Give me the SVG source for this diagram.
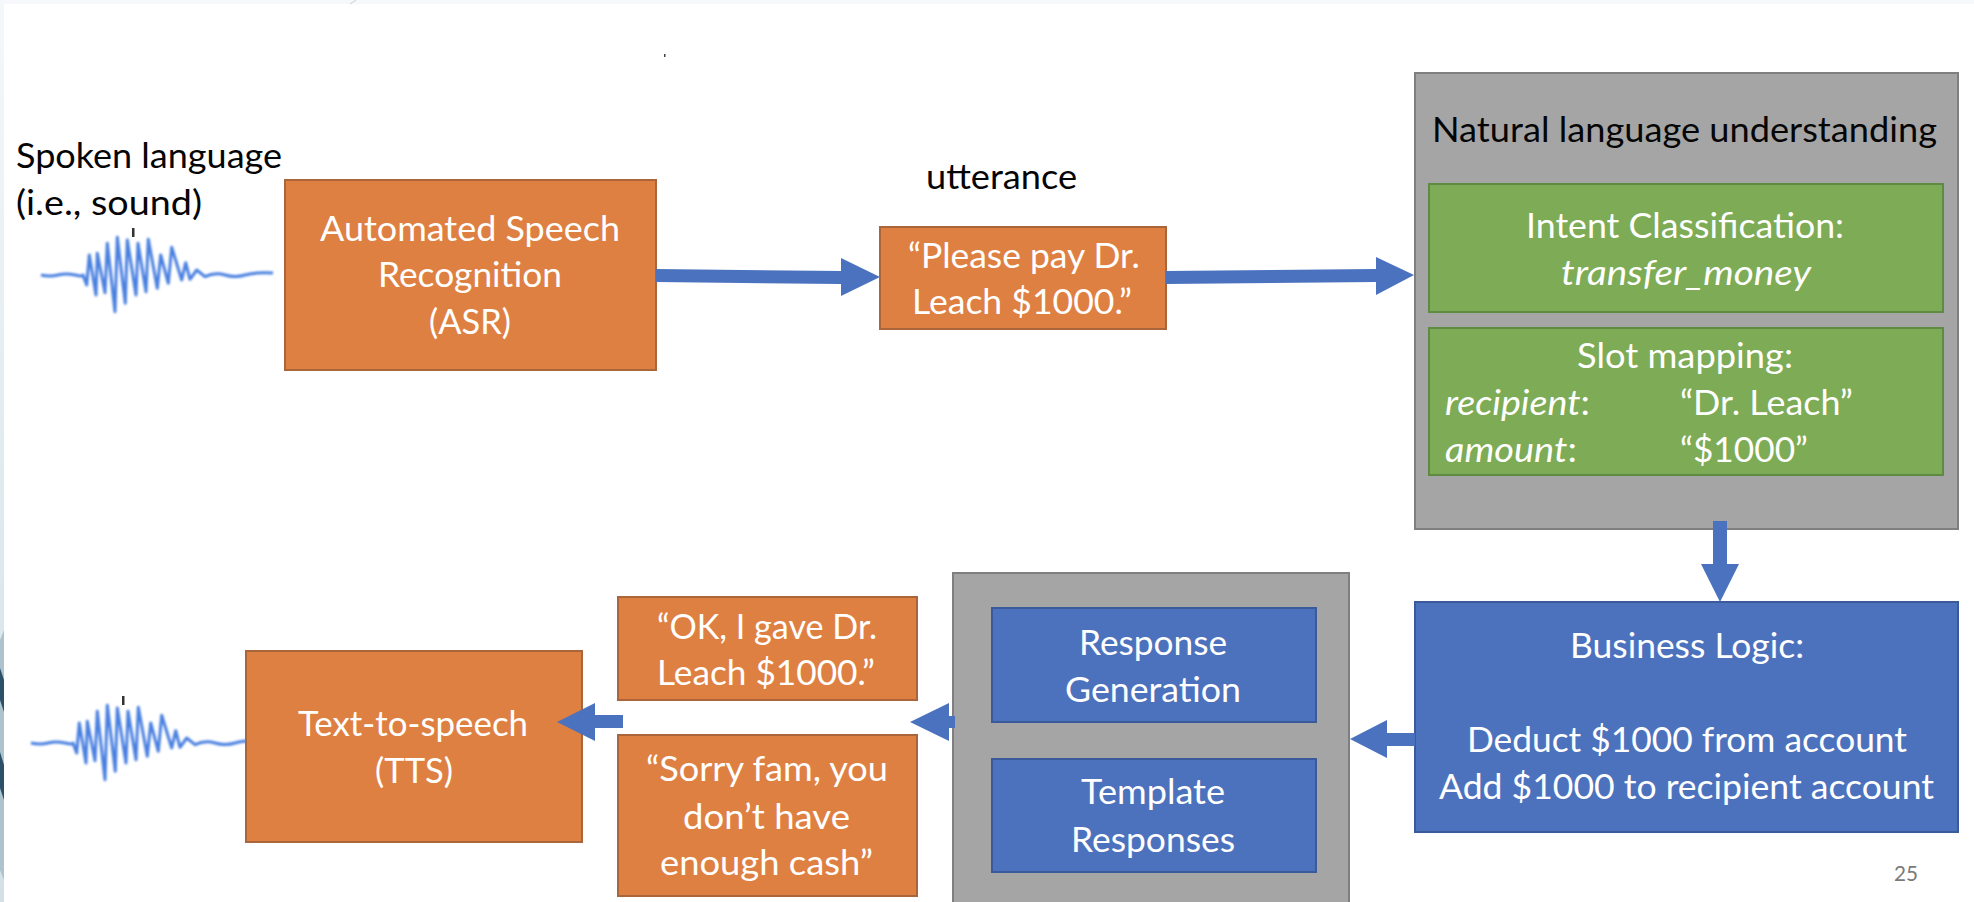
<svg xmlns="http://www.w3.org/2000/svg" xmlns:xlink="http://www.w3.org/1999/xlink" width="1974" height="902" viewBox="0 0 1974 902">
<style>
text{font-family:Lato,"Liberation Sans",sans-serif;font-size:34.500px;fill:#fff}
.d{fill:#050505}
.i{font-style:italic}
.o{fill:#df8043;stroke:#ab653a;stroke-width:2}
.b{fill:#4d72bd;stroke:#3a5a9a;stroke-width:2}
.g{fill:#7eab55;stroke:#5f8a41;stroke-width:2}
.y{fill:#a5a5a5;stroke:#7f7f7f;stroke-width:2}
.a{fill:#4a72be}
.w{fill:none;stroke:#4a80e0;stroke-width:3;stroke-linejoin:round;filter:url(#blur)}
</style>
<defs>
<filter id="blur" x="-5%" y="-10%" width="110%" height="120%"><feGaussianBlur stdDeviation="1"/></filter>
<linearGradient id="edge" x1="0" y1="0" x2="0" y2="1"><stop offset="0" stop-color="#f5f8fa"/><stop offset="0.5" stop-color="#e0ebf0"/><stop offset="1" stop-color="#d3e1e7"/></linearGradient>
<g id="wave">
<path class="w" d="M41,275Q50,277 58,275T75,275T83,275L86.700,285L89.300,255L96,295L97.300,253.300L105,292.700L107.300,243.300L115,311.700L117.300,237.300L125.300,303.300L127.300,240L136,295L138,243.300L146,291.700L148.300,239.300L157.300,288.300L160.700,255L168.300,283.300L171.700,247.300L181.700,280L185.700,262.700L190,279.300L196.700,270L205,276.700Q215,272 225,275T245,275T273,273"/>
<rect x="132" y="228" width="2.500" height="9" fill="#333"/>
</g>
</defs>
<rect width="1974" height="902" fill="#fff"/>
<g id="frame">
<rect width="1974" height="4" fill="#f6f8fb"/>
<rect width="4" height="902" fill="url(#edge)"/>
<path d="M0,640L4,630L4,880L0,870Z" fill="#adc4ce"/>
<path d="M0,668L4,680L4,712L0,700Z" fill="#2b5068"/>
<path d="M0,752L4,765L4,800L0,788Z" fill="#2b5068"/>
<path d="M350,4L356,0" stroke="#ccc" stroke-width="1" fill="none"/>
<rect x="664" y="54" width="1.500" height="3" fill="#444"/>
</g>
<g id="wave-in"><use xlink:href="#wave" href="#wave"/></g>
<g id="wave-out"><use xlink:href="#wave" href="#wave" transform="translate(-10,468)"/></g>
<g id="spoken-label">
<text class="d" x="16" y="168" textLength="266" lengthAdjust="spacingAndGlyphs">Spoken language</text>
<text class="d" x="16" y="215" textLength="186" lengthAdjust="spacingAndGlyphs">(i.e., sound)</text>
</g>
<g id="asr">
<rect class="o" x="285" y="180" width="371" height="190"/>
<text x="320" y="241" textLength="300" lengthAdjust="spacingAndGlyphs">Automated Speech</text>
<text x="378" y="287" textLength="184" lengthAdjust="spacingAndGlyphs">Recognition</text>
<text x="429" y="334" textLength="82" lengthAdjust="spacingAndGlyphs">(ASR)</text>
</g>
<g id="utterance">
<text class="d" x="926" y="189" textLength="151" lengthAdjust="spacingAndGlyphs">utterance</text>
<rect class="o" x="880" y="227" width="286" height="102"/>
<text x="908" y="268" textLength="232" lengthAdjust="spacingAndGlyphs">“Please pay Dr.</text>
<text x="912" y="314" textLength="220" lengthAdjust="spacingAndGlyphs">Leach $1000.”</text>
</g>
<g id="nlu">
<rect class="y" x="1415" y="73" width="543" height="456"/>
<text class="d" x="1432" y="142" textLength="505" lengthAdjust="spacingAndGlyphs">Natural language understanding</text>
</g>
<g id="intent">
<rect class="g" x="1429" y="184" width="514" height="128"/>
<text x="1526" y="238" textLength="318" lengthAdjust="spacingAndGlyphs">Intent Classification:</text>
<text class="i" x="1561" y="285" textLength="250" lengthAdjust="spacingAndGlyphs">transfer_money</text>
</g>
<g id="slots">
<rect class="g" x="1429" y="328" width="514" height="147"/>
<text x="1577" y="368" textLength="216" lengthAdjust="spacingAndGlyphs">Slot mapping:</text>
<text x="1445" y="415" textLength="145" lengthAdjust="spacingAndGlyphs"><tspan class="i">recipient</tspan>:</text>
<text x="1680" y="415" textLength="173" lengthAdjust="spacingAndGlyphs">“Dr. Leach”</text>
<text x="1445" y="462" textLength="132" lengthAdjust="spacingAndGlyphs"><tspan class="i">amount</tspan>:</text>
<text x="1680" y="462" textLength="128" lengthAdjust="spacingAndGlyphs">“$1000”</text>
</g>
<g id="business">
<rect class="b" x="1415" y="602" width="543" height="230"/>
<text x="1570" y="658" textLength="234" lengthAdjust="spacingAndGlyphs">Business Logic:</text>
<text x="1467" y="752" textLength="440" lengthAdjust="spacingAndGlyphs">Deduct $1000 from account</text>
<text x="1439" y="799" textLength="495" lengthAdjust="spacingAndGlyphs">Add $1000 to recipient account</text>
</g>
<g id="response-group">
<rect class="y" x="953" y="573" width="396" height="340"/>
</g>
<g id="response-generation">
<rect class="b" x="992" y="608" width="324" height="114"/>
<text x="1079" y="655" textLength="148" lengthAdjust="spacingAndGlyphs">Response</text>
<text x="1065" y="702" textLength="176" lengthAdjust="spacingAndGlyphs">Generation</text>
</g>
<g id="template-responses">
<rect class="b" x="992" y="759" width="324" height="113"/>
<text x="1081" y="804" textLength="144" lengthAdjust="spacingAndGlyphs">Template</text>
<text x="1071" y="852" textLength="164" lengthAdjust="spacingAndGlyphs">Responses</text>
</g>
<g id="ok-reply">
<rect class="o" x="618" y="597" width="299" height="103"/>
<text x="657" y="639" textLength="220" lengthAdjust="spacingAndGlyphs">“OK, I gave Dr.</text>
<text x="657" y="685" textLength="218" lengthAdjust="spacingAndGlyphs">Leach $1000.”</text>
</g>
<g id="sorry-reply">
<rect class="o" x="618" y="735" width="299" height="161"/>
<text x="646" y="781" textLength="242" lengthAdjust="spacingAndGlyphs">“Sorry fam, you</text>
<text x="683" y="829" textLength="167" lengthAdjust="spacingAndGlyphs">don’t have</text>
<text x="660" y="875" textLength="213" lengthAdjust="spacingAndGlyphs">enough cash”</text>
</g>
<g id="tts">
<rect class="o" x="246" y="651" width="336" height="191"/>
<text x="298" y="736" textLength="230" lengthAdjust="spacingAndGlyphs">Text-to-speech</text>
<text x="375" y="783" textLength="78" lengthAdjust="spacingAndGlyphs">(TTS)</text>
</g>
<g id="connectors">
<polygon class="a" points="656,269 841,271 841,258 880,277 841,296 841,284 656,282"/>
<polygon class="a" points="1166,271 1376,269 1376,257 1414,275 1376,295 1376,282 1166,284"/>
<polygon class="a" points="1713,521 1727,521 1727,564 1739,564 1720,602 1701,564 1713,564"/>
<polygon class="a" points="1415,733 1387,733 1387,720 1350,739 1387,758 1387,746 1415,746"/>
<polygon class="a" points="955,716 949,716 949,703 910,722 949,741 949,728 955,728"/>
<polygon class="a" points="623,715 595,715 595,703 557,722 595,741 595,728 623,728"/>
</g>
<text id="page-number" x="1894" y="881" textLength="24" lengthAdjust="spacingAndGlyphs" style="font-size:22px;fill:#7a7a7a">25</text>
</svg>
